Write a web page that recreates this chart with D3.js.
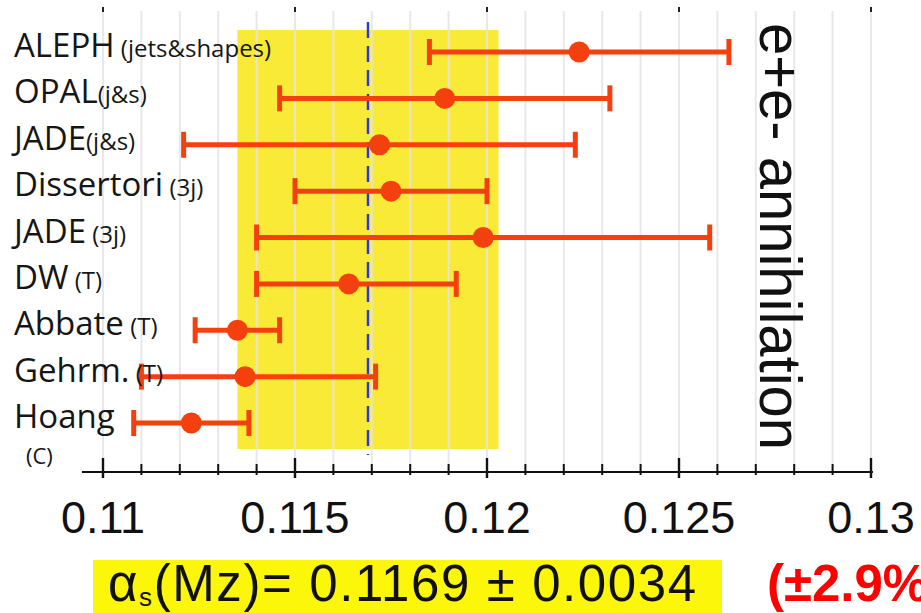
<!DOCTYPE html>
<html>
<head>
<meta charset="utf-8">
<script src="https://cdn.jsdelivr.net/npm/d3@7"></script>
<style>
  html, body { margin: 0; padding: 0; background: #fff; overflow: hidden; }
  svg { display: block; }
</style>
</head>
<body>
<svg id="chart" width="921" height="613"></svg>
<script>
// ---- data ----
const names   = ["ALEPH", "OPAL", "JADE", "Dissertori", "JADE", "DW", "Abbate", "Gehrm.", "Hoang"];
const tags    = [" (jets&shapes)", "(j&s)", "(j&s)", " (3j)", " (3j)", " (T)", " (T)", " (T)", ""];
const central = [0.1224, 0.1189, 0.1172, 0.1175, 0.1199, 0.1164, 0.1135, 0.1137, 0.1123];
const lower   = [0.1185, 0.1146, 0.1121, 0.1150, 0.1140, 0.1140, 0.1124, 0.1110, 0.1108];
const upper   = [0.1263, 0.1232, 0.1223, 0.1200, 0.1258, 0.1192, 0.1146, 0.1171, 0.1138];
const avgValue = 0.1169;
const avgError = 0.0034;
const majorTicks = [0.11, 0.115, 0.12, 0.125, 0.13];
const majorTickLabels = ["0.11", "0.115", "0.12", "0.125", "0.13"];
const minorTicks = d3.range(0, 21).map(i => +(0.11 + i * 0.001).toFixed(3));
const sideTitle = "e+e- annihilation";
const resultText = "(Mz)= 0.1169 ± 0.0034";
const percentText = "(±2.9%)";

// ---- layout ----
const svg = d3.select("#chart");
const x = d3.scaleLinear().domain([0.11, 0.13]).range([103, 871]);
const y = d3.scalePoint().domain(d3.range(names.length)).range([52, 423]);
const axisY = 472;
const red = "#f4400e";

// yellow band
svg.append("rect")
  .attr("x", x(avgValue - avgError))
  .attr("width", x(avgValue + avgError) - x(avgValue - avgError))
  .attr("y", 30).attr("height", 419)
  .attr("fill", "#f9ea38");

// vertical gridlines
svg.append("g").selectAll("line").data(minorTicks).join("line")
  .attr("x1", d => x(d)).attr("x2", d => x(d))
  .attr("y1", 11).attr("y2", axisY)
  .attr("stroke", "#e4e4e4").attr("stroke-opacity", 0.85).attr("stroke-width", 2);

// top small ticks
svg.append("g").selectAll("line").data(majorTicks).join("line")
  .attr("x1", d => x(d)).attr("x2", d => x(d))
  .attr("y1", 7).attr("y2", 12)
  .attr("stroke", "#222").attr("stroke-width", 2);

// blue dashed average line
svg.append("line")
  .attr("x1", x(avgValue)).attr("x2", x(avgValue))
  .attr("y1", 22).attr("y2", 455)
  .attr("stroke", "#2a3ad8").attr("stroke-width", 2.4)
  .attr("stroke-dasharray", "16,8");

// axis
const ax = svg.append("g").attr("transform", `translate(0,${axisY})`);
ax.append("line").attr("x1", x(0.10945)).attr("x2", x(0.13005))
  .attr("stroke", "#111").attr("stroke-width", 2.2);
ax.selectAll("line.minor").data(minorTicks.filter(v => !majorTicks.some(m => Math.abs(m - v) < 1e-9)))
  .join("line").attr("class", "minor")
  .attr("x1", d => x(d)).attr("x2", d => x(d))
  .attr("y1", -8).attr("y2", 3)
  .attr("stroke", "#111").attr("stroke-width", 2);
ax.selectAll("line.major").data(majorTicks).join("line").attr("class", "major")
  .attr("x1", d => x(d)).attr("x2", d => x(d))
  .attr("y1", -14).attr("y2", 6)
  .attr("stroke", "#111").attr("stroke-width", 2.4);
ax.selectAll("text").data(majorTicks).join("text")
  .attr("x", d => x(d)).attr("y", 61)
  .attr("text-anchor", "middle")
  .attr("font-family", "'Liberation Sans', Arial, sans-serif")
  .attr("font-size", 45).attr("fill", "#111")
  .text((d, i) => majorTickLabels[i]);

// error bars
const rows = svg.append("g").selectAll("g").data(names.map((n, i) => i)).join("g");
rows.append("line")
  .attr("x1", i => x(lower[i])).attr("x2", i => x(upper[i]))
  .attr("y1", i => y(i)).attr("y2", i => y(i))
  .attr("stroke", red).attr("stroke-width", 5);
rows.append("line")
  .attr("x1", i => x(lower[i])).attr("x2", i => x(lower[i]))
  .attr("y1", i => y(i) - 13).attr("y2", i => y(i) + 13)
  .attr("stroke", red).attr("stroke-width", 5);
rows.append("line")
  .attr("x1", i => x(upper[i])).attr("x2", i => x(upper[i]))
  .attr("y1", i => y(i) - 13).attr("y2", i => y(i) + 13)
  .attr("stroke", red).attr("stroke-width", 5);
rows.append("circle")
  .attr("cx", i => x(central[i])).attr("cy", i => y(i))
  .attr("r", 10.5).attr("fill", red);

// row labels
const lab = svg.append("g").selectAll("text").data(names.map((n, i) => i)).join("text")
  .attr("x", 14).attr("y", i => y(i) + 5)
  .attr("font-family", "'Open Sans', sans-serif")
  .attr("fill", "#161616");
lab.append("tspan").attr("font-size", 33).text(i => names[i]);
lab.append("tspan").attr("font-size", 24).text(i => tags[i]);
svg.append("text")
  .attr("x", 26).attr("y", 464)
  .attr("font-family", "'Open Sans', sans-serif")
  .attr("font-size", 22).attr("fill", "#161616")
  .text("(C)");

// side title
svg.append("text")
  .attr("transform", "translate(760,23) rotate(90)")
  .attr("font-family", "'Liberation Sans', Arial, sans-serif")
  .attr("font-size", 60).attr("fill", "#111")
  .attr("textLength", 427).attr("lengthAdjust", "spacingAndGlyphs")
  .text(sideTitle);

// result box
svg.append("rect").attr("x", 93).attr("y", 560).attr("width", 629).attr("height", 60)
  .attr("fill", "#fcf60a");
const res = svg.append("text").attr("x", 108).attr("y", 601)
  .attr("font-family", "'Liberation Sans', Arial, sans-serif")
  .attr("font-size", 51).attr("letter-spacing", 1.6).attr("fill", "#111");
res.append("tspan").text("α");
res.append("tspan").attr("font-size", 26).attr("dy", 5).text("s");
res.append("tspan").attr("dy", -5).text(resultText);

svg.append("text").attr("x", 767).attr("y", 601)
  .attr("font-family", "'Liberation Sans', Arial, sans-serif")
  .attr("font-size", 51).attr("font-weight", "bold").attr("fill", "#ff0000")
  .text(percentText);
</script>
</body>
</html>
